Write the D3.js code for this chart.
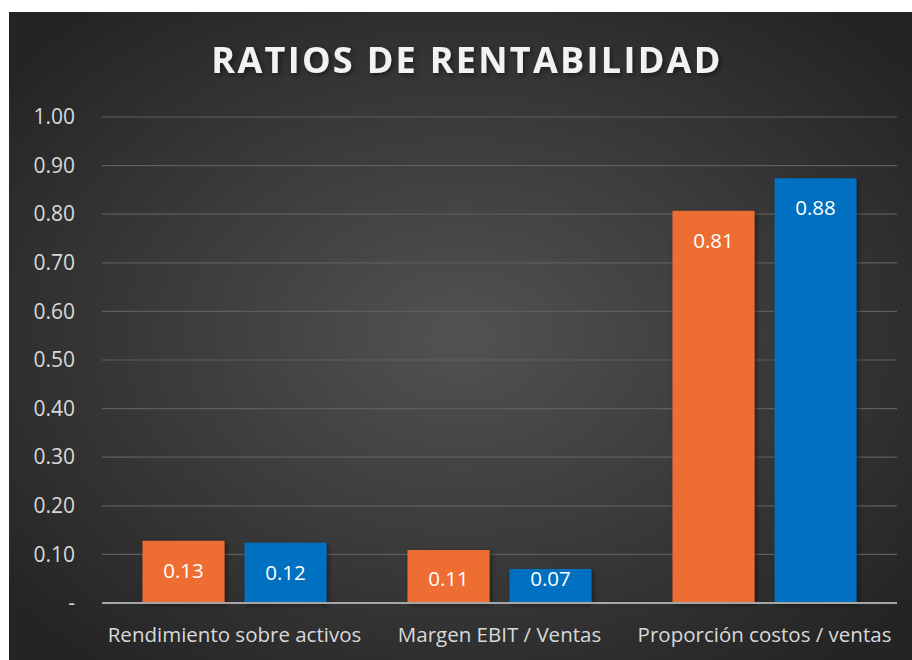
<!DOCTYPE html>
<html>
<head>
<meta charset="utf-8">
<script src="https://cdn.jsdelivr.net/npm/d3@7"></script>
<style>
  body { margin: 0; background: #fff; }
  #chart { width: 912px; height: 660px; }
  text { font-family: "Open Sans", "Noto Sans", sans-serif; }
</style>
</head>
<body>
<div id="chart"></div>
<script>
// chart values
const categories = ["Rendimiento sobre activos", "Margen EBIT / Ventas", "Proporción costos / ventas"];
const serieA = [0.128, 0.109, 0.807];   // naranja
const serieB = [0.124, 0.070, 0.874];   // azul
const labelsA = ["0.13", "0.11", "0.81"];
const labelsB = ["0.12", "0.07", "0.88"];
const yTicks = [0, 0.1, 0.2, 0.3, 0.4, 0.5, 0.6, 0.7, 0.8, 0.9, 1.0];

const width = 912;
const height = 660;
const margin = { top: 117, left: 102, right: 15, bottom: 57 };

const svg = d3.select("#chart")
    .append("svg")
    .attr("width", width)
    .attr("height", height);

const defs = svg.append("defs");
const grad = defs.append("radialGradient")
    .attr("id", "bg")
    .attr("cx", "50%").attr("cy", "50%").attr("r", "65%");
grad.append("stop").attr("offset", "0%").attr("stop-color", "#525252");
grad.append("stop").attr("offset", "100%").attr("stop-color", "#242424");

const shadow = defs.append("filter").attr("id", "shadow")
    .attr("x", "-20%").attr("y", "-20%").attr("width", "140%").attr("height", "140%");
shadow.append("feDropShadow")
    .attr("dx", 2).attr("dy", 2).attr("stdDeviation", 2.5)
    .attr("flood-color", "#000").attr("flood-opacity", 0.45);

// background panel
svg.append("rect")
    .attr("x", 9).attr("y", 12)
    .attr("width", width - 9).attr("height", height - 12)
    .attr("fill", "url(#bg)");

const xScale = d3.scaleBand()
    .domain(categories)
    .range([margin.left, width - margin.right]);

const inner = d3.scaleBand()
    .domain(["a", "b"])
    .range([0, xScale.bandwidth()])
    .paddingInner(0.196)
    .paddingOuter(0.397);

const yScale = d3.scaleLinear()
    .domain([0, 1])
    .range([height - margin.bottom, margin.top]);

// gridlines
svg.append("g")
    .selectAll("line")
    .data(yTicks.filter(d => d > 0))
    .enter()
    .append("line")
    .attr("x1", margin.left)
    .attr("x2", width - margin.right)
    .attr("y1", d => yScale(d))
    .attr("y2", d => yScale(d))
    .attr("stroke", "#5e5e5e")
    .attr("stroke-width", 1.2);

// y axis labels
const yAxis = svg.append("g")
    .attr("transform", `translate(${margin.left - 27},0)`)
    .call(d3.axisLeft(yScale).tickValues(yTicks).tickSize(0)
        .tickFormat(d => d === 0 ? "-" : d3.format(".2f")(d)));
yAxis.select(".domain").remove();
yAxis.selectAll("text")
    .attr("fill", "#d9d9d9")
    .style("font-size", "21px")
    .attr("x", 0);

const groups = categories.map((c, i) => ({ c, a: serieA[i], b: serieB[i], la: labelsA[i], lb: labelsB[i] }));
const bars = [];
groups.forEach(g => {
    bars.push({ c: g.c, key: "a", v: g.a, label: g.la, color: "#ED6D31" });
    bars.push({ c: g.c, key: "b", v: g.b, label: g.lb, color: "#0070C0" });
});

svg.append("g")
    .selectAll("rect")
    .data(bars)
    .enter()
    .append("rect")
    .attr("x", d => xScale(d.c) + inner(d.key))
    .attr("y", d => yScale(d.v))
    .attr("width", inner.bandwidth())
    .attr("height", d => yScale(0) - yScale(d.v))
    .attr("fill", d => d.color)
    .attr("filter", "url(#shadow)");

// data labels
svg.append("g")
    .selectAll("text")
    .data(bars)
    .enter()
    .append("text")
    .attr("x", d => xScale(d.c) + inner(d.key) + inner.bandwidth() / 2)
    .attr("y", d => Math.min(yScale(d.v) + 29, yScale(0) - 25))
    .attr("text-anchor", "middle")
    .attr("dominant-baseline", "central")
    .attr("fill", "#ffffff")
    .style("font-size", "20.5px")
    .text(d => d.label);

// baseline
svg.append("line")
    .attr("x1", margin.left)
    .attr("x2", width - margin.right)
    .attr("y1", yScale(0))
    .attr("y2", yScale(0))
    .attr("stroke", "#a6a6a6")
    .attr("stroke-width", 2);

// x axis labels
const xAxis = svg.append("g")
    .attr("transform", `translate(0,${yScale(0)})`)
    .call(d3.axisBottom(xScale).tickSize(0));
xAxis.select(".domain").remove();
xAxis.selectAll("text")
    .attr("fill", "#d9d9d9")
    .attr("dy", 0)
    .attr("y", 31)
    .attr("dominant-baseline", "central")
    .style("font-size", "20.5px");

// title
svg.append("text")
    .attr("x", 467)
    .attr("y", 73)
    .attr("text-anchor", "middle")
    .attr("fill", "#f2f2f2")
    .attr("filter", "url(#shadow)")
    .style("font-size", "36px")
    .style("font-weight", "bold")
    .style("letter-spacing", "2.3px")
    .text("RATIOS DE RENTABILIDAD");
</script>
</body>
</html>
